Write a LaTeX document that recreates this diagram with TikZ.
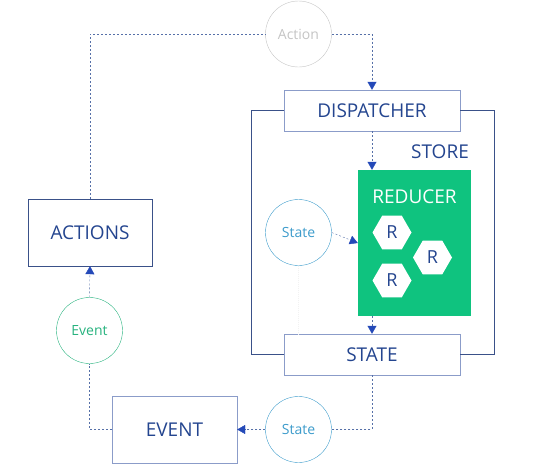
\documentclass[tikz,border=0pt]{standalone}
\usepackage{fontspec}
\setmainfont{Open Sans}
\usetikzlibrary{arrows.meta,shapes.geometric,positioning}
\definecolor{navy}{HTML}{24458F}
\definecolor{boxline}{HTML}{3A5189}
\definecolor{lightline}{HTML}{8B9CC9}
\definecolor{dashcol}{HTML}{5670A8}
\definecolor{tipcol}{HTML}{2449B8}
\definecolor{reducergreen}{HTML}{0FC37F}
\definecolor{statecol}{HTML}{3C9BCB}
\definecolor{eventcol}{HTML}{27B27E}
\definecolor{actioncol}{HTML}{C4C4C4}
\begin{document}
\begin{tikzpicture}[x=1pt,y=-1pt,>={Triangle[width=9pt,length=8pt]},
        main box/.style={rectangle,draw=boxline,thin,text=navy,font=\fontsize{19}{19}\selectfont,inner sep=0pt},
        light box/.style={main box,draw=lightline},
        bubble/.style={circle,draw,thin,minimum size=66pt,inner sep=0pt,font=\fontsize{14}{14}\selectfont},
        hexa/.style={regular polygon,regular polygon sides=6,fill=white,minimum size=39pt,inner sep=0pt,text=navy,font=\fontsize{18}{18}\selectfont},
        flow/.style={draw=dashcol,thin,dash pattern=on 2pt off 2pt},
        flow arrow/.style={flow,->,>={Triangle[width=9pt,length=8pt,fill=tipcol,color=tipcol]}},
        frame/.style={draw=boxline,thin}]

\useasboundingbox (0,0) rectangle (550,466);

% boxes
\node (disp) [light box,minimum width=176pt,minimum height=41pt] at (372,110.5) {DISPATCHER};
\node (state) [light box,minimum width=176pt,minimum height=41pt] at (372,354.5) {STATE};
\node (actions) [main box,minimum width=124pt,minimum height=67pt] at (90,232.5) {ACTIONS};
\node (event) [light box,minimum width=125pt,minimum height=67pt] at (174.5,429.5) {EVENT};

% store
\draw[frame] (disp.west) -- ++(-33,0) |- (state.west);
\draw[frame] (disp.east) -- ++(34,0) |- (state.east);
\node (store) [text=navy,font=\fontsize{19}{19}\selectfont] at (440,152) {STORE};
\node (reducer) [rectangle,fill=reducergreen,minimum width=113pt,minimum height=146pt,inner sep=0pt] at (414.5,243) {};
\node (reducerlabel) [text=white,font=\fontsize{19}{19}\selectfont,below=16pt of reducer.north] {REDUCER};
\node (r1) [hexa] at (392,232.5) {R};
\node (r2) [hexa] at (432.5,257.5) {R};
\node (r3) [hexa] at (392,280.5) {R};

% bubbles
\node (action) [bubble,draw=actioncol,text=actioncol] at (298.5,34) {Action};
\node (stateA) [bubble,draw=statecol,text=statecol] at (298.5,232.5) {State};
\node (stateB) [bubble,draw=statecol,text=statecol] at (298.5,429.5) {State};
\node (eventc) [bubble,draw=eventcol,text=eventcol] at (89.5,330.5) {Event};

% flow
\draw[flow] (actions.north) |- (action.west);
\draw[flow arrow] (action.east) -| (disp.north);
\draw[flow arrow] (disp.south) -- (disp.south |- reducer.north);
\draw[flow arrow] (stateA.east) -- (reducer.west);
\draw[flow arrow] (state.north |- reducer.south) -- (state.north);
\draw[draw=black!5,thin,dash pattern=on 1pt off 1pt] (stateA.south) -- (stateA.south |- state.north);
\draw[flow] (state.south) |- (stateB.east);
\draw[flow arrow] (stateB.west) -- (event.east);
\draw[flow] (event.west) -| (eventc.south);
\draw[flow arrow] (eventc.north) -- (actions.south);

\end{tikzpicture}
\end{document}
